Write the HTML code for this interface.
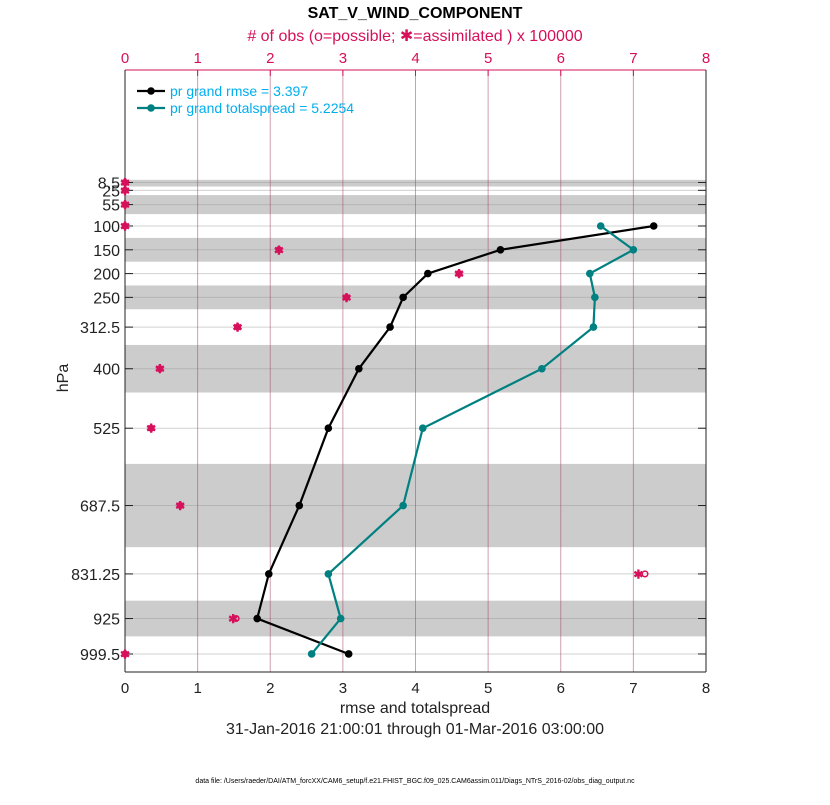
<!DOCTYPE html>
<html><head><meta charset="utf-8"><style>
body{margin:0;background:#fff;font-family:"Liberation Sans",sans-serif}
</style></head><body>
<svg id="c" width="830" height="800" xmlns="http://www.w3.org/2000/svg" font-family="Liberation Sans, sans-serif"></svg>
<script>
const levels=[8.5,25,55,100,150,200,250,312.5,400,525,687.5,831.25,925,999.5];
const levelLabels=["8.5","25","55","100","150","200","250","312.5","400","525","687.5","831.25","925","999.5"];
const bandLo=[3,35,125,225,350,600,887.5];
const bandHi=[17,75,175,275,450,775,962.5];
const rmseLevels=[100,150,200,250,312.5,400,525,687.5,831.25,925,999.5];
const rmse=[7.28,5.17,4.17,3.83,3.65,3.22,2.80,2.40,1.98,1.82,3.08];
const spread=[6.55,7.00,6.40,6.47,6.45,5.74,4.10,3.83,2.80,2.97,2.57];
const obsAssim=[0,0,0,0,2.12,4.60,3.05,1.55,0.48,0.36,0.76,7.07,1.49,0];
const obsPoss=[0,0,0,0,2.12,4.60,3.05,1.55,0.48,0.36,0.76,7.16,1.53,0];
const xTicks=[0,1,2,3,4,5,6,7,8];

const L=125,R=706,T=70,B=672;
const X=v=>L+(v/8)*(R-L);
const Y=p=>226+(p-100)*0.4758;
const svg=document.getElementById('c');
const NS='http://www.w3.org/2000/svg';
function mk(tag,attrs,name,txt){const e=document.createElementNS(NS,tag);for(const k in attrs)e.setAttribute(k,attrs[k]);


if(txt!==undefined)e.textContent=txt;svg.appendChild(e);return e;}
bandLo.forEach((lo,i)=>{mk('rect',{x:L,y:Y(lo),width:R-L,height:Y(bandHi[i])-Y(lo),fill:'#cccccc'},'layer-band');});
levels.forEach((p,i)=>{mk('line',{x1:L,x2:R,y1:Y(p),y2:Y(p),stroke:'#999',"stroke-opacity":0.45,"stroke-width":1},'y-gridline');
mk('line',{x1:R-8,x2:R,y1:Y(p),y2:Y(p),stroke:'#222',"stroke-width":1},'y-tick-right');
mk('line',{x1:L,x2:L+8,y1:Y(p),y2:Y(p),stroke:'#222',"stroke-width":1},'y-tick-left');
mk('text',{x:L-5,y:Y(p)+6,"text-anchor":"end","font-size":16,fill:'#222'},'y-tick-label',levelLabels[i]);});
xTicks.forEach(v=>{mk('line',{x1:X(v),x2:X(v),y1:T,y2:B,stroke:'#a0405f',"stroke-opacity":0.5,"stroke-width":1},'x-gridline');
mk('text',{x:X(v),y:693,"text-anchor":"middle","font-size":15,fill:'#222'},'x-tick-label',String(v));
mk('text',{x:X(v),y:63,"text-anchor":"middle","font-size":15,fill:'#d6105a'},'top-x-tick-label',String(v));
mk('line',{x1:X(v),x2:X(v),y1:T,y2:T+6,stroke:'#d6105a'},'top-x-tick');});
mk('line',{x1:L,x2:R,y1:T,y2:T,stroke:'#d6105a',"stroke-width":1},'top-axis');
mk('line',{x1:L,x2:R,y1:B,y2:B,stroke:'#222'},'bottom-axis');
mk('line',{x1:L,x2:L,y1:T,y2:B,stroke:'#222'},'left-axis');
mk('line',{x1:R,x2:R,y1:T,y2:B,stroke:'#222'},'right-axis');
function series(vals,col,name){mk('polyline',{points:vals.map((v,i)=>X(v)+','+Y(rmseLevels[i])).join(' '),fill:'none',stroke:col,"stroke-width":2.2},name+'-line');
vals.forEach((v,i)=>mk('circle',{cx:X(v),cy:Y(rmseLevels[i]),r:3.8,fill:col},name+'-point'));}
series(rmse,'#000','rmse');
series(spread,'#008080','totalspread');
levels.forEach((p,i)=>{mk('circle',{cx:X(obsPoss[i]),cy:Y(p),r:2.8,fill:'none',stroke:'#d6105a',"stroke-width":1.5},'obs-possible');
mk('text',{x:X(obsAssim[i]),y:Y(p)+4.5,"text-anchor":"middle","font-size":12,"font-weight":"bold",fill:'#d6105a'},'obs-assimilated','✱');});
mk('line',{x1:137,x2:165,y1:91,y2:91,stroke:'#000',"stroke-width":2.2},'legend-rmse-line');
mk('circle',{cx:151,cy:91,r:3.8,fill:'#000'},'legend-rmse-marker');
mk('text',{x:170,y:96,"font-size":14,fill:'#00aeef'},'legend-rmse-label','pr grand rmse = 3.397');
mk('line',{x1:137,x2:165,y1:108,y2:108,stroke:'#008080',"stroke-width":2.2},'legend-spread-line');
mk('circle',{cx:151,cy:108,r:3.8,fill:'#008080'},'legend-spread-marker');
mk('text',{x:170,y:113,"font-size":14,fill:'#00aeef'},'legend-spread-label','pr grand totalspread = 5.2254');
mk('text',{x:415,y:18,"text-anchor":"middle","font-size":16,"font-weight":"bold",fill:'#000'},'chart-title','SAT_V_WIND_COMPONENT');
mk('text',{x:415,y:41,"text-anchor":"middle","font-size":16,fill:'#d6105a'},'top-axis-title','# of obs (o=possible; \u2731=assimilated ) x 100000');
mk('text',{x:415,y:713,"text-anchor":"middle","font-size":16,fill:'#222'},'x-axis-title','rmse and totalspread');
mk('text',{x:415,y:734,"text-anchor":"middle","font-size":16,fill:'#222'},'date-range','31-Jan-2016 21:00:01 through 01-Mar-2016 03:00:00');
mk('text',{x:68,y:378,"text-anchor":"middle","font-size":16,fill:'#222',transform:'rotate(-90 68 378)'},'y-axis-title','hPa');
mk('text',{x:415,y:783,"text-anchor":"middle","font-size":7,fill:'#000'},'data-file-note','data file: /Users/raeder/DAI/ATM_forcXX/CAM6_setup/f.e21.FHIST_BGC.f09_025.CAM6assim.011/Diags_NTrS_2016-02/obs_diag_output.nc');
</script>
</body></html>
